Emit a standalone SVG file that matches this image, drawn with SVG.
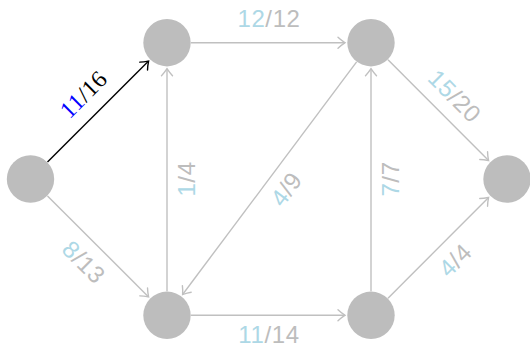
<svg xmlns="http://www.w3.org/2000/svg" width="530" height="349" viewBox="0 0 530 349">
  <defs>
    <marker id="arrGray" markerUnits="userSpaceOnUse" markerWidth="16" markerHeight="16" viewBox="-10 -8 12 16" refX="0" refY="0" orient="auto" overflow="visible">
      <path d="M -7 -5.5 C -4 -2.6, -1.2 -0.8, 0 0 C -1.2 0.8, -4 2.6, -7 5.5" fill="none" stroke="#c0c0c0" stroke-width="1.4" stroke-linecap="round"/>
    </marker>
    <marker id="arrBlack" markerUnits="userSpaceOnUse" markerWidth="16" markerHeight="16" viewBox="-10 -8 12 16" refX="0" refY="0" orient="auto" overflow="visible">
      <path d="M -7 -5.5 C -4 -2.6, -1.2 -0.8, 0 0 C -1.2 0.8, -4 2.6, -7 5.5" fill="none" stroke="#000000" stroke-width="1.4" stroke-linecap="round"/>
    </marker>
  </defs>
  <style>
    .node { fill: #bdbdbd; }
    .edge { stroke: #c0c0c0; stroke-width: 1.4; fill: none; marker-end: url(#arrGray); }
    .edge.active { stroke: #000000; marker-end: url(#arrBlack); }
    .lbl { font-family: "Liberation Sans", Arial, sans-serif; font-size: 24px; text-anchor: middle; fill: #bdbdbd; letter-spacing: 0.6px; }
    .lbl.serif { font-family: "Liberation Serif", "Times New Roman", serif; fill: #000000; letter-spacing: 0.4px; }
    .flow { fill: #add8e6; }
    .flowb { fill: #0000ff; }
  </style>

  <g id="connectors">
    <line id="e-s-a" class="edge active" x1="47.5" y1="162" x2="148.6" y2="61.1"/>
    <line id="e-a-b" class="edge" x1="191" y1="42.7" x2="345" y2="42.7"/>
    <line id="e-b-t" class="edge" x1="388" y1="59.7" x2="488.6" y2="160.6"/>
    <line id="e-s-c" class="edge" x1="47.5" y1="196" x2="148.6" y2="296.9"/>
    <line id="e-c-a" class="edge" x1="167" y1="291.3" x2="167" y2="68.7"/>
    <line id="e-b-c" class="edge" x1="356.6" y1="61.9" x2="182.6" y2="294.5"/>
    <line id="e-c-d" class="edge" x1="191" y1="315.3" x2="345" y2="315.3"/>
    <line id="e-d-b" class="edge" x1="371" y1="291.3" x2="371" y2="68.7"/>
    <line id="e-d-t" class="edge" x1="388" y1="298.3" x2="488.6" y2="197.4"/>
  </g>

  <g id="labels">
    <text class="lbl serif" transform="translate(83,94) rotate(-45)" dy="0.36em"><tspan class="flowb">11</tspan>/16</text>
    <text class="lbl" x="269" y="27.3"><tspan class="flow">12</tspan>/12</text>
    <text class="lbl" transform="translate(455,96) rotate(45)" dy="0.36em"><tspan class="flow">15</tspan>/20</text>
    <text class="lbl" transform="translate(84,262) rotate(45)" dy="0.36em"><tspan class="flow">8</tspan>/13</text>
    <text class="lbl" transform="translate(186,179) rotate(-90)" dy="0.36em"><tspan class="flow">1</tspan>/4</text>
    <text class="lbl" transform="translate(286,189) rotate(-53.2)" dy="0.36em"><tspan class="flow">4</tspan>/9</text>
    <text class="lbl" transform="translate(390,179) rotate(-90)" dy="0.36em"><tspan class="flow">7</tspan>/7</text>
    <text class="lbl" x="269" y="342.7"><tspan class="flow">11</tspan>/14</text>
    <text class="lbl" transform="translate(455,260) rotate(-45)" dy="0.36em"><tspan class="flow">4</tspan>/4</text>
  </g>

  <g id="node-s"><circle class="node" cx="30.5" cy="179" r="23.7"/></g>
  <g id="node-a"><circle class="node" cx="167" cy="42.7" r="23.7"/></g>
  <g id="node-b"><circle class="node" cx="371" cy="42.7" r="23.7"/></g>
  <g id="node-t"><circle class="node" cx="507" cy="179" r="23.7"/></g>
  <g id="node-c"><circle class="node" cx="167" cy="315.3" r="23.7"/></g>
  <g id="node-d"><circle class="node" cx="371" cy="315.3" r="23.7"/></g>
</svg>
